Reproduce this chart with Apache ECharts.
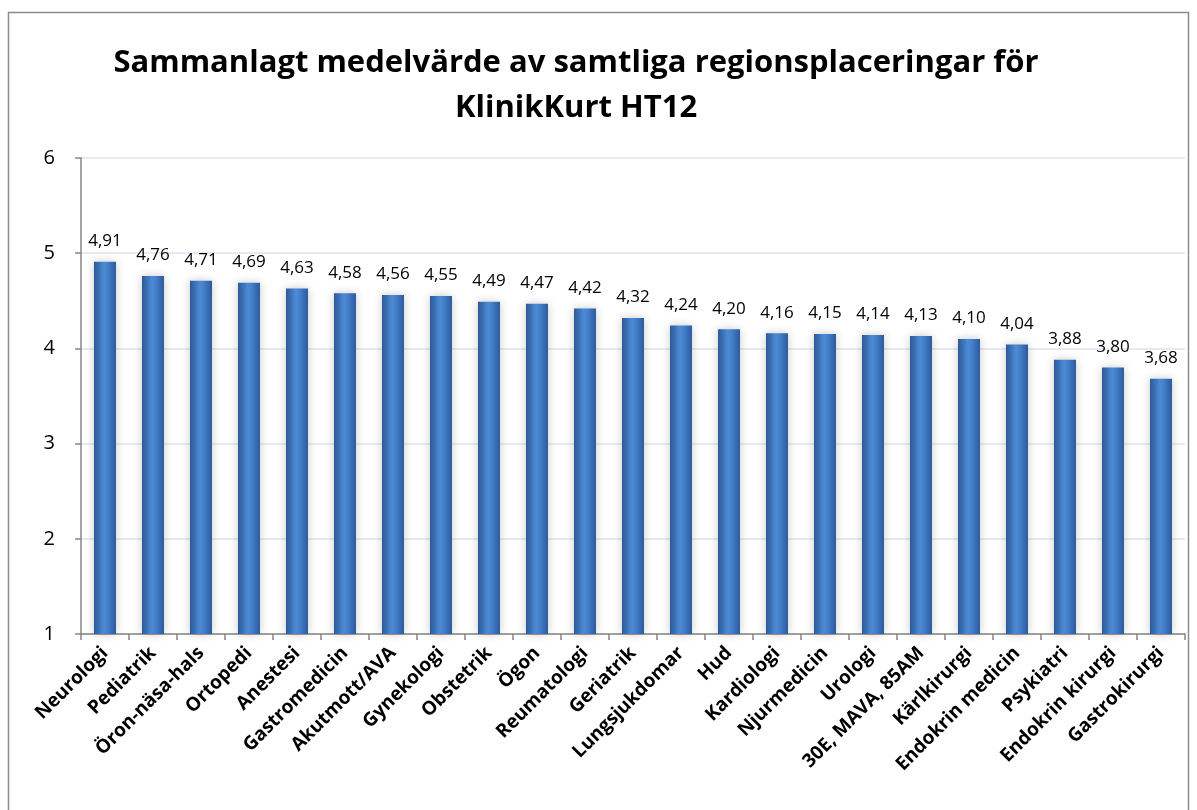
<!DOCTYPE html>
<html>
<head>
<meta charset="utf-8">
<style>
  html, body { margin: 0; padding: 0; background: #fff; }
  #chart { width: 1197px; height: 810px; }
</style>
<script src="https://cdn.jsdelivr.net/npm/echarts@6/dist/echarts.min.js"></script>
</head>
<body>
<div id="chart"></div>
<script>
const categories = [
  'Neurologi', 'Pediatrik', 'Öron-näsa-hals', 'Ortopedi', 'Anestesi',
  'Gastromedicin', 'Akutmott/AVA', 'Gynekologi', 'Obstetrik', 'Ögon',
  'Reumatologi', 'Geriatrik', 'Lungsjukdomar', 'Hud', 'Kardiologi',
  'Njurmedicin', 'Urologi', '30E, MAVA, 85AM', 'Kärlkirurgi',
  'Endokrin medicin', 'Psykiatri', 'Endokrin kirurgi', 'Gastrokirurgi'
]
const values = [
  4.91, 4.76, 4.71, 4.69, 4.63,
  4.58, 4.56, 4.55, 4.49, 4.47,
  4.42, 4.32, 4.24, 4.20, 4.16,
  4.15, 4.14, 4.13, 4.10,
  4.04, 3.88, 3.80, 3.68
]
const titleLine1 = 'Sammanlagt medelvärde av samtliga regionsplaceringar för'
const titleLine2 = 'KlinikKurt HT12'

const font = "'Open Sans', sans-serif"
const chart = echarts.init(document.getElementById('chart'))

chart.setOption({
  backgroundColor: '#fff',
  animation: false,
  title: [{
    text: titleLine1,
    left: 571,
    top: 43,
    textAlign: 'center',
    textStyle: { fontFamily: font, fontWeight: 'bold', fontSize: 31, color: '#000' }
  }, {
    text: titleLine2,
    left: 571,
    top: 88,
    textAlign: 'center',
    textStyle: { fontFamily: font, fontWeight: 'bold', fontSize: 31, color: '#000' }
  }],
  graphic: [{
    type: 'rect',
    shape: { x: 8.5, y: 12.5, width: 1180, height: 820 },
    style: { fill: 'none', stroke: '#8c8c8c', lineWidth: 1.5 },
    silent: true
  }],
  grid: { left: 81, right: 12, top: 158, bottom: 176 },
  xAxis: {
    type: 'category',
    data: categories,
    axisLine: { lineStyle: { color: '#868686', width: 1.5 } },
    axisTick: { show: true, length: 6, lineStyle: { color: '#868686', width: 1.5 } },
    axisLabel: {
      rotate: 45,
      interval: 0,
      margin: 16,
      fontFamily: font,
      fontWeight: 'bold',
      fontSize: 19,
      color: '#000'
    }
  },
  yAxis: {
    type: 'value',
    min: 1,
    max: 6,
    interval: 1,
    axisLine: { show: true, lineStyle: { color: '#868686', width: 1.5 } },
    axisTick: { show: true, length: 6, lineStyle: { color: '#868686', width: 1.5 } },
    axisLabel: { fontFamily: font, fontSize: 20, color: '#000', margin: 26 },
    splitLine: { lineStyle: { color: '#dbe5f1', width: 1.5 } }
  },
  series: [{
    type: 'bar',
    data: values,
    barWidth: 22,
    itemStyle: {
      color: new echarts.graphic.LinearGradient(0, 0, 1, 0, [
        { offset: 0, color: '#2c5999' },
        { offset: 0.45, color: '#4d8ad6' },
        { offset: 0.6, color: '#4683cf' },
        { offset: 1, color: '#2c5b9d' }
      ]),
      shadowColor: 'rgba(0,0,0,0.22)',
      shadowBlur: 9
    },
    label: {
      show: true,
      position: 'top',
      distance: 12,
      fontFamily: font,
      fontSize: 17,
      color: '#000',
      formatter: p => p.value.toFixed(2).replace('.', ',')
    }
  }]
})
</script>
</body>
</html>
